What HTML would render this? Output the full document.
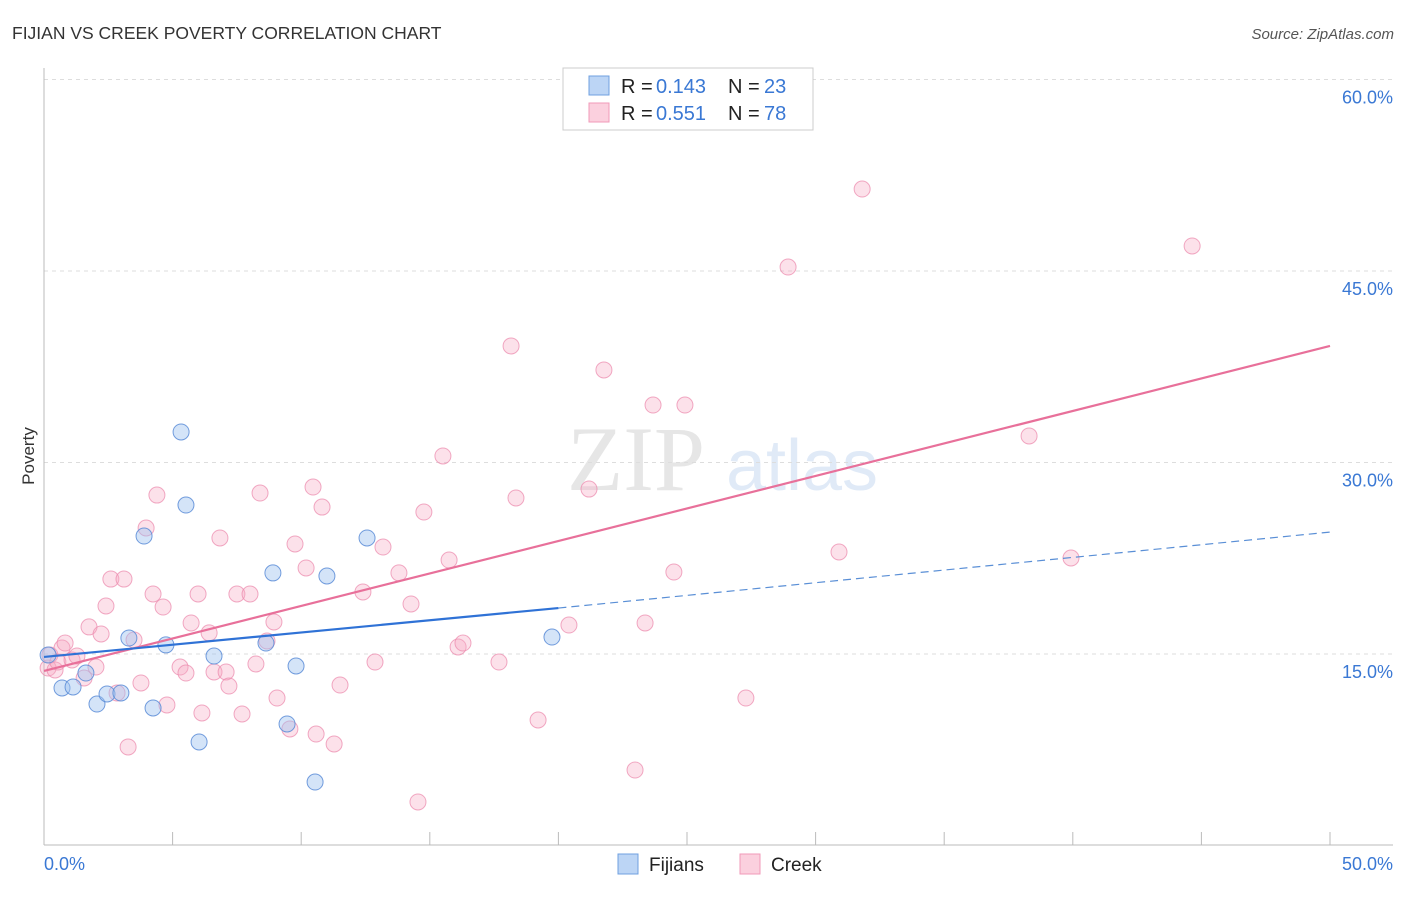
<!DOCTYPE html>
<html><head><meta charset="utf-8"><style>
body{margin:0;background:#fff;font-family:"Liberation Sans",sans-serif;}
</style></head><body>
<svg width="1406" height="892" viewBox="0 0 1406 892" xmlns="http://www.w3.org/2000/svg">
<text x="12" y="39" font-size="17.5" fill="#333">FIJIAN VS CREEK POVERTY CORRELATION CHART</text>
<text x="1394" y="39" font-size="15" fill="#555" font-style="italic" text-anchor="end">Source: ZipAtlas.com</text>
<g opacity="0.18">
<text x="636" y="490" font-size="92" font-family="Liberation Serif,serif" fill="#777" text-anchor="middle">ZIP</text>
<text x="802" y="490" font-size="72" fill="#5a8fd6" text-anchor="middle">atlas</text>
</g>
<g id="grid"></g>
<g id="axes"></g>
<g id="marks"></g>
<text transform="translate(34,456) rotate(-90)" font-size="17" fill="#333" text-anchor="middle">Poverty</text>
<g>
<rect x="563" y="68" width="250" height="62" fill="#fff" stroke="#ccc"/>
<rect x="589" y="76" width="20" height="19" fill="#bcd5f5" stroke="#6fa0e0"/>
<g font-size="20" fill="#222">
<text x="621" y="93">R =</text><text x="656" y="93" fill="#3a78d4">0.143</text>
<text x="728" y="93">N =</text><text x="764" y="93" fill="#3a78d4">23</text></g>
<rect x="589" y="103" width="20" height="19" fill="#fbd0de" stroke="#f09ab8"/>
<g font-size="20" fill="#222">
<text x="621" y="120">R =</text><text x="656" y="120" fill="#3a78d4">0.551</text>
<text x="728" y="120">N =</text><text x="764" y="120" fill="#3a78d4">78</text></g>
</g>
<g>
<rect x="618" y="854" width="20" height="20" fill="#bcd5f5" stroke="#6fa0e0"/>
<text x="649" y="871" font-size="19" fill="#222">Fijians</text>
<rect x="740" y="854" width="20" height="20" fill="#fbd0de" stroke="#f09ab8"/>
<text x="771" y="871" font-size="19" fill="#222">Creek</text>
</g>
</svg>
<script>
const fijX=[0.16,0.70,1.13,1.63,2.06,2.45,2.99,3.30,3.89,4.24,4.74,5.33,5.52,6.03,6.61,8.63,8.90,9.45,9.80,10.54,11.00,12.56,19.75];
const fijY=[14.92,12.34,12.42,13.51,11.08,11.87,11.95,16.25,24.24,10.77,15.71,32.39,26.67,8.11,14.84,15.86,21.35,9.52,14.06,4.97,21.11,24.09,16.33];
const crkX=[0.16,0.23,0.43,0.54,0.70,0.82,1.09,1.28,1.56,1.75,2.02,2.22,2.41,2.60,2.84,3.11,3.27,3.50,3.77,3.97,4.24,4.39,4.63,4.78,5.29,5.52,5.72,5.99,6.14,6.42,6.61,6.84,7.08,7.19,7.50,7.70,8.01,8.24,8.40,8.67,8.94,9.06,9.56,9.76,10.19,10.46,10.58,10.81,11.28,11.51,12.40,12.87,13.18,13.80,14.27,14.54,14.77,15.51,15.75,16.10,16.29,17.69,18.16,18.35,19.21,20.41,21.19,21.77,22.98,23.37,23.68,24.49,24.92,27.29,28.93,30.91,31.81,38.30,39.93,44.64];
const crkY=[13.90,14.92,13.75,14.37,15.47,15.86,14.53,14.84,13.12,17.12,13.98,16.57,18.76,20.87,11.95,20.87,7.72,16.10,12.73,24.87,19.70,27.45,18.68,11.01,13.98,13.51,17.43,19.70,10.38,16.65,13.59,24.09,13.59,12.49,19.70,10.30,19.70,14.22,27.61,16.02,17.51,11.55,9.13,23.62,21.74,28.08,8.73,26.51,7.95,12.57,19.86,14.37,23.38,21.35,18.92,3.41,26.12,30.51,22.36,15.55,15.86,14.37,39.13,27.22,9.83,17.27,27.92,37.25,5.91,17.43,34.50,21.42,34.50,11.55,45.31,22.99,51.42,32.08,22.52,46.96];
const fijTrend=[14.77,18.60,24.55]; // y at x=0, x=20, x=50
const crkTrend=[13.67,39.13]; // y at x=0, x=50
const yTicks=[15,30,45,60];
const yTickLabels=["15.0%","30.0%","45.0%","60.0%"];
const xTicks=[0,5,10,15,20,25,30,35,40,45,50];
const NS="http://www.w3.org/2000/svg";
const sx=v=>44+v*1286/50;
const sy=v=>845.5-v*191.5/15;
function mk(tag,attrs,parent){const e=document.createElementNS(NS,tag);for(const k in attrs)e.setAttribute(k,attrs[k]);parent.appendChild(e);return e;}
const grid=document.getElementById('grid'),axes=document.getElementById('axes'),marks=document.getElementById('marks');
yTicks.forEach((t,i)=>{
 const l=mk('line',{x1:44,x2:1393,y1:sy(t),y2:sy(t),stroke:'#ddd','stroke-dasharray':'4,4'},grid);
 
 
 const tx=mk('text',{x:1393,y:sy(t)+24,'font-size':18,fill:'#3a78d4','text-anchor':'end'},axes);
 tx.textContent=yTickLabels[i];
 
 
});
const xl=mk('line',{x1:44,x2:1393,y1:845,y2:845,stroke:'#bbb'},axes);


const yl=mk('line',{x1:44,x2:44,y1:68,y2:845,stroke:'#bbb'},axes);


xTicks.forEach(t=>{
 const l=mk('line',{x1:sx(t),x2:sx(t),y1:832,y2:845,stroke:'#bbb'},axes);
 
 
});
const x0=mk('text',{x:44,y:870,'font-size':18,fill:'#3a78d4'},axes);x0.textContent='0.0%';


const x1=mk('text',{x:1393,y:870,'font-size':18,fill:'#3a78d4','text-anchor':'end'},axes);x1.textContent='50.0%';


crkX.forEach((x,i)=>{
 const c=mk('circle',{cx:sx(x),cy:sy(crkY[i]),r:8,fill:'rgba(245,170,196,0.35)',stroke:'rgba(236,140,175,0.75)','stroke-width':1},marks);
 
 
});
fijX.forEach((x,i)=>{
 const c=mk('circle',{cx:sx(x),cy:sy(fijY[i]),r:8,fill:'rgba(160,196,240,0.45)',stroke:'rgba(90,140,215,0.85)','stroke-width':1},marks);
 
 
});
const ct=mk('line',{x1:sx(0),y1:sy(crkTrend[0]),x2:sx(50),y2:sy(crkTrend[1]),stroke:'#e8709a','stroke-width':2.2},marks);


const ft=mk('line',{x1:sx(0),y1:sy(fijTrend[0]),x2:sx(20),y2:sy(fijTrend[1]),stroke:'#2f72d6','stroke-width':2.2},marks);


const fd=mk('line',{x1:sx(20),y1:sy(fijTrend[1]),x2:sx(50),y2:sy(fijTrend[2]),stroke:'#5a8fd6','stroke-width':1.2,'stroke-dasharray':'8,5'},marks);


</script>
</body></html>
